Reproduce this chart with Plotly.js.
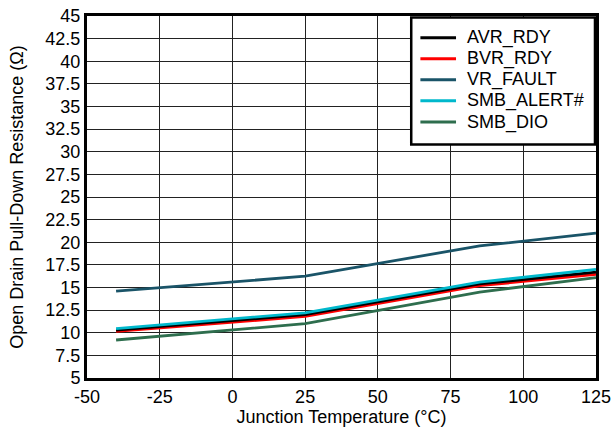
<!DOCTYPE html>
<html><head><meta charset="utf-8">
<script src="https://cdn.plot.ly/plotly-3.0.1.min.js"></script>
<style>html,body{margin:0;padding:0;background:#fff}</style>
</head><body>
<div id="chart" style="width:611px;height:433px"></div>
<script>
const temps = [-40, 25, 85, 125];
const avrRdy = [10.3, 12.0, 15.4, 16.7];
const bvrRdy = [10.15, 11.8, 15.2, 16.45];
const vrFault = [14.6, 16.25, 19.6, 21.0];
const smbAlert = [10.45, 12.2, 15.6, 17.0];
const smbDio = [9.2, 11.0, 14.5, 16.1];
const seriesNames = ['AVR_RDY', 'BVR_RDY', 'VR_FAULT', 'SMB_ALERT#', 'SMB_DIO'];
const xTicks = [-50, -25, 0, 25, 50, 75, 100, 125];
const yTicks = [5,7.5,10,12.5,15,17.5,20,22.5,25,27.5,30,32.5,35,37.5,40,42.5,45];

const seriesValues = [avrRdy, bvrRdy, vrFault, smbAlert, smbDio];
const colors = ['#000000', '#ff0000', '#1a5468', '#00b8cc', '#2e6e4e'];
const drawOrder = [4, 2, 1, 0, 3];
const traces = drawOrder.map(i => ({
  x: temps, y: seriesValues[i], name: seriesNames[i], type:'scatter', mode:'lines',
  line:{color:colors[i], width:2.8}, showlegend:false
}));

const font = {family:'Liberation Sans, Arial, sans-serif', size:18, color:'#000'};

// custom legend (paper coordinates)
const shapes = [{type:'rect', xref:'paper', yref:'paper', x0:0.637, x1:0.998, y0:0.645, y1:0.996,
  fillcolor:'#fff', line:{color:'#000', width:2.5}, layer:'above'}];
const annotations = [];
const rowY = [0.940, 0.882, 0.824, 0.766, 0.707];
seriesNames.forEach((n, i) => {
  shapes.push({type:'line', xref:'paper', yref:'paper', x0:0.655, x1:0.725, y0:rowY[i], y1:rowY[i],
    line:{color:colors[i], width:3}, layer:'above'});
  annotations.push({xref:'paper', yref:'paper', x:0.742, y:rowY[i], xanchor:'left', yanchor:'middle',
    text:n, showarrow:false, font:font});
});

const layout = {
  width:611, height:433,
  margin:{l:87, r:15, t:16, b:55},
  paper_bgcolor:'#fff', plot_bgcolor:'#fff',
  font: font,
  showlegend:false,
  shapes: shapes, annotations: annotations,
  xaxis:{range:[-50,125], tickvals:xTicks, ticktext:xTicks.map(String),
    showgrid:true, gridcolor:'#222', gridwidth:1, zeroline:false,
    showline:true, linecolor:'#000', linewidth:3, mirror:true, ticks:'',
    ticklabeloverflow:'allow', automargin:false,
    title:{text:'Junction Temperature (°C)', font:font, standoff:4}, tickfont:font},
  yaxis:{range:[5,45], tickvals:yTicks, ticktext:yTicks.map(String),
    showgrid:true, gridcolor:'#222', gridwidth:1, zeroline:false,
    showline:true, linecolor:'#000', linewidth:3, mirror:true, ticks:'',
    ticklabeloverflow:'allow', automargin:false,
    title:{text:'Open Drain Pull-Down Resistance (Ω)', font:font, standoff:18}, tickfont:font}
};
Plotly.newPlot('chart', traces, layout, {staticPlot:true, displayModeBar:false});
</script>
</body></html>
